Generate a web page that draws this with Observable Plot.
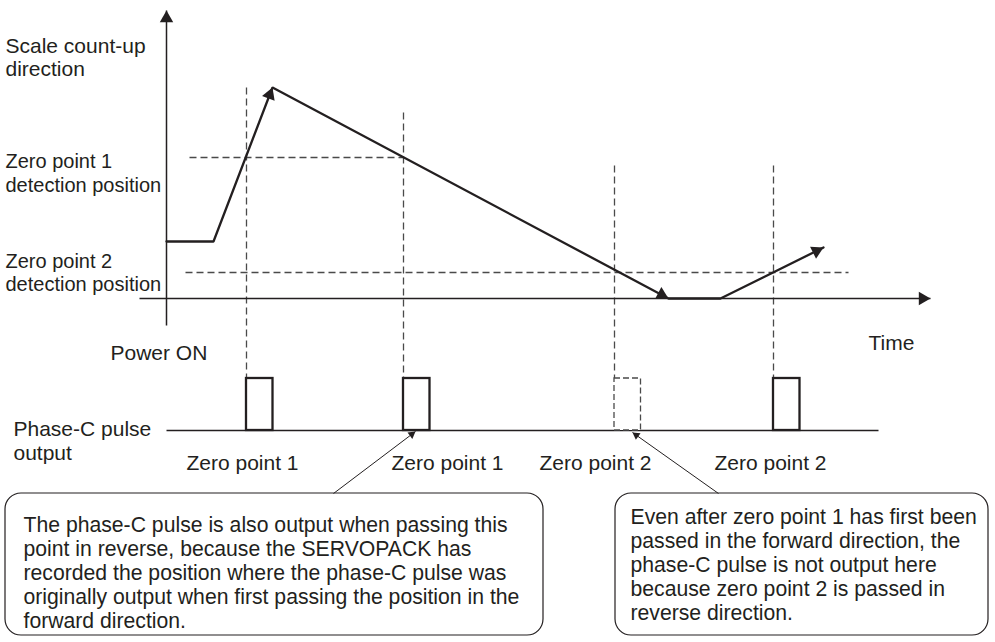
<!DOCTYPE html>
<html>
<head>
<meta charset="utf-8">
<script src="https://cdn.jsdelivr.net/npm/d3@7"></script>
<script src="https://cdn.jsdelivr.net/npm/@observablehq/plot@0.6"></script>
<style>
  html, body { margin: 0; padding: 0; background: #fff; }
  svg { display: block; }
</style>
</head>
<body>
<div id="chart"></div>
<script>
// ---- Data (time units on x, scale-position units on y) ----
// Trajectory of the scale position over time
const trajTime = [0, 4.7, 10.6, 50.2, 55.4, 65.7];
const trajPos  = [5.7, 5.7, 21.1, 0, 0, 5.1];
const trajArrowEnds = [2, 3, 5];          // segments ending in an arrowhead

// Zero point detection positions
const levelPos    = [14.1, 2.6];
const levelFrom   = [2.3, 1.9];
const levelTo     = [23.7, 68.2];
const levelLabels = ["Zero point 1\ndetection position", "Zero point 2\ndetection position"];
const levelLabelPos = [12.6, 2.65];

// Passing events of zero points
const crossTime      = [8.0, 23.7, 44.8, 60.7];
const crossNames     = ["Zero point 1", "Zero point 1", "Zero point 2", "Zero point 2"];
const crossOutput    = [true, true, false, true];
const crossGuideTop  = [21.1, 18.6, 13.3, 13.3];
const crossLabelTime = [7.6, 28.1, 42.9, 60.4];

// Phase-C pulse lane
const pulseWidth = 2.65;
const pulseLow = -13.2, pulseHigh = -8.0;
const pulseLaneEnd = 71.2;

// Axes
const timeAxis = [-2.7, 76.4];
const posAxis  = [-2.7, 28.8];

// Callout notes
const noteX1 = [-16.1, 44.9];
const noteX2 = [37.7, 82.2];
const noteY1 = [-33.7, -33.7];
const noteY2 = [-19.5, -19.5];
const noteFromT = [16.7, 55.2];
const noteToT   = [24.9, 46.6];
const noteTipP  = [-13.3, -13.4];
const noteTextT = [-14.3, 46.4];
const noteTextP = [-27.4, -26.6];
const noteTexts = [
  "The phase-C pulse is also output when passing this\npoint in reverse, because the SERVOPACK has\nrecorded the position where the phase-C pulse was\noriginally output when first passing the position in the\nforward direction.",
  "Even after zero point 1 has first been\npassed in the forward direction, the\nphase-C pulse is not output here\nbecause zero point 2 is passed in\nreverse direction."
];

// Other labels
const axisLabels = [
  {t: -16.1, p: 24.15, text: "Scale count-up\ndirection"},
  {t: -5.6, p: -5.4, text: "Power ON"},
  {t: 70.2, p: -4.4, text: "Time"},
  {t: -15.3, p: -14.2, text: "Phase-C pulse\noutput"}
];

// ---- Derived tables ----
const ink = "#231f20";
const dashInk = "#4a4a4a";
const traj = trajTime.map((t, i) => ({t, p: trajPos[i]}));
const levels = levelPos.map((p, i) => ({p, from: levelFrom[i], to: levelTo[i], label: levelLabels[i], lp: levelLabelPos[i]}));
const crossings = crossTime.map((t, i) => ({t, name: crossNames[i], out: crossOutput[i], top: crossGuideTop[i], lt: crossLabelTime[i]}));
const notes = noteX1.map((x1, i) => ({x1, x2: noteX2[i], y1: noteY1[i], y2: noteY2[i],
  ft: noteFromT[i], tt: noteToT[i], tp: noteTipP[i], text: noteTexts[i], xt: noteTextT[i], yt: noteTextP[i]}));

function head(x1, y1, x2, y2, r) {
  const dx = x2 - x1, dy = y2 - y1, L = Math.hypot(dx, dy);
  const d = 1.555 * r / 10; // symbol tip offset in data units (10 px per unit)
  return {x: x2 - dx / L * d, y: y2 - dy / L * d, rotate: Math.atan2(dx, dy) * 180 / Math.PI};
}
const bigHeads = [
  head(timeAxis[0], 0, timeAxis[1], 0, 5),
  head(0, posAxis[0], 0, posAxis[1], 5),
  ...trajArrowEnds.map(i => head(trajTime[i-1], trajPos[i-1], trajTime[i], trajPos[i], 5))
];
const smallHeads = notes.map(n => head(n.ft, n.y2, n.tt, n.tp, 3));

const chart = Plot.plot({
  width: 995,
  height: 642,
  margin: 0,
  x: {domain: [-16.6, 82.9], axis: null},
  y: {domain: [-34.4, 29.8], axis: null},
  style: {fontFamily: "'Liberation Sans', Arial, Helvetica, sans-serif", fontSize: "21px", color: ink, background: "#fff"},
  marks: [
    // dashed detection levels
    Plot.link(levels, {x1: "from", x2: "to", y1: "p", y2: "p", stroke: dashInk, strokeWidth: 1.3, strokeDasharray: "7,4"}),
    // dashed guides from trajectory to pulses
    Plot.link(crossings, {x1: "t", x2: "t", y1: "top", y2: pulseHigh, stroke: dashInk, strokeWidth: 1.3, strokeDasharray: "7,4"}),
    // axes
    Plot.link([{a: timeAxis[0], b: timeAxis[1]}], {x1: "a", x2: "b", y1: 0, y2: 0, stroke: ink, strokeWidth: 1.5}),
    Plot.link([{a: posAxis[0], b: posAxis[1]}], {x1: 0, x2: 0, y1: "a", y2: "b", stroke: ink, strokeWidth: 1.5}),
    // trajectory
    Plot.line(traj, {x: "t", y: "p", stroke: ink, strokeWidth: 2.3, strokeLinejoin: "miter"}),
    Plot.dot(bigHeads, {x: "x", y: "y", rotate: "rotate", symbol: "triangle", r: 5, fill: ink, stroke: null}),
    // pulse lane baseline
    Plot.link([{a: 0, b: pulseLaneEnd}], {x1: "a", x2: "b", y1: pulseLow, y2: pulseLow, stroke: ink, strokeWidth: 1.5}),
    // pulses
    Plot.rect(crossings.filter(d => d.out), {x1: "t", x2: d => d.t + pulseWidth, y1: pulseLow, y2: pulseHigh, fill: "white", stroke: ink, strokeWidth: 2.3}),
    Plot.rect(crossings.filter(d => !d.out), {x1: "t", x2: d => d.t + pulseWidth, y1: pulseLow, y2: pulseHigh, fill: "white", stroke: dashInk, strokeWidth: 1.3, strokeDasharray: "6,3"}),
    // zero point labels under pulses
    Plot.text(crossings, {x: "lt", y: -16.5, text: "name", fill: ink, fontSize: 21}),
    // level labels
    Plot.text(levels, {x: -16.1, y: "lp", text: "label", textAnchor: "start", lineHeight: 1.18, fill: ink, fontSize: 20}),
    // axis & lane labels
    Plot.text(axisLabels, {x: "t", y: "p", text: "text", textAnchor: "start", lineHeight: 1.12, fill: ink, fontSize: 21}),
    // callout boxes
    Plot.rect(notes, {x1: "x1", x2: "x2", y1: "y1", y2: "y2", rx: 16, fill: "white", stroke: ink, strokeWidth: 1.2}),
    Plot.link(notes, {x1: "ft", y1: "y2", x2: "tt", y2: "tp", stroke: ink, strokeWidth: 1}),
    Plot.dot(smallHeads, {x: "x", y: "y", rotate: "rotate", symbol: "triangle", r: 3, fill: ink, stroke: null}),
    Plot.text(notes, {x: "xt", y: "yt", text: "text", textAnchor: "start", lineHeight: 1.13, fill: ink, fontSize: 21.2})
  ]
});
document.getElementById("chart").appendChild(chart);
</script>
</body>
</html>
